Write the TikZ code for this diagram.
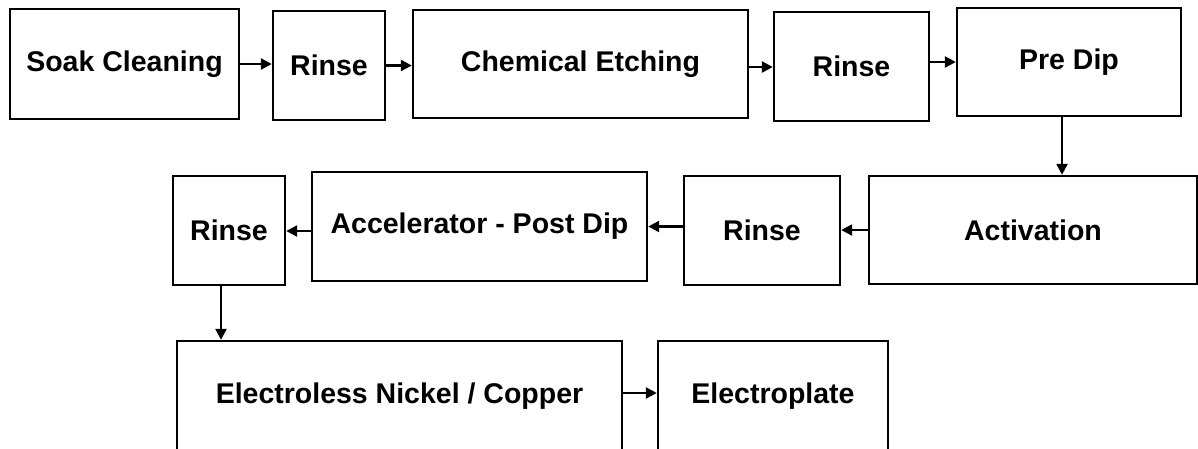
\documentclass[tikz,border=0pt]{standalone}
\usepackage{fontspec}
\setmainfont{Liberation Sans}
\usetikzlibrary{arrows.meta}

\tikzset{
    stage/.style={draw, line width=2.4pt, rectangle, inner sep=0pt, align=center,
        font=\fontsize{28.5}{34}\selectfont\bfseries},
    flow/.style={line width=2.4pt, -{Triangle[length=11pt,width=11pt]}}
}

\begin{document}
\begin{tikzpicture}[x=1pt, y=-1pt]
    \useasboundingbox (0,0) rectangle (1198,448);
    \clip (0,0) rectangle (1198,448);

    % First row (left to right)
    \node[stage, minimum width=229pt, minimum height=110pt] (soak)   at (124.5,64)  {Soak Cleaning};
    \node[stage, minimum width=112pt, minimum height=109pt] (rinseA) at (329,65.5)  {Rinse};
    \node[stage, minimum width=335pt, minimum height=108pt] (etch)   at (580.5,64)  {Chemical Etching};
    \node[stage, minimum width=155pt, minimum height=109pt] (rinseB) at (851.5,66.5) {Rinse};
    \node[stage, minimum width=224pt, minimum height=108pt] (predip) at (1069,62)   {Pre Dip};

    % Second row (right to left)
    \node[stage, minimum width=328pt, minimum height=108pt] (activ)  at (1033,230)  {Activation};
    \node[stage, minimum width=156pt, minimum height=109pt] (rinseC) at (762,230.5) {Rinse};
    \node[stage, minimum width=335pt, minimum height=109pt] (accel)  at (479.5,226.5) {Accelerator - Post Dip};
    \node[stage, minimum width=112pt, minimum height=109pt] (rinseD) at (229,230.5) {Rinse};

    % Third row
    \node[stage, minimum width=445pt, minimum height=111pt] (eless)  at (399.5,396.5) {Electroless Nickel / Copper};
    \node[stage, minimum width=230pt, minimum height=111pt] (eplate) at (773,396.5) {Electroplate};

    % Arrows
    \draw[flow] (soak.east) -- (soak.east -| rinseA.west);
    \draw[flow] (rinseA.east) -- (rinseA.east -| etch.west);
    \draw[flow] ([yshift=-3pt]etch.east) -- ([yshift=-3pt]etch.east -| rinseB.west);
    \draw[flow] (predip.west -| rinseB.east) -- (predip.west);
    \draw[flow] ([xshift=-7pt]predip.south) -- ([xshift=-7pt]predip.south |- activ.north);
    \draw[flow] (activ.west) -- (activ.west -| rinseC.east);
    \draw[flow] (accel.east -| rinseC.west) -- (accel.east);
    \draw[flow] ([yshift=-4.5pt]accel.west) -- ([yshift=-4.5pt]accel.west -| rinseD.east);
    \draw[flow] ([xshift=-8pt]rinseD.south) -- ([xshift=-8pt]rinseD.south |- eless.north);
    \draw[flow] ([yshift=3.5pt]eless.east) -- ([yshift=3.5pt]eless.east -| eplate.west);
\end{tikzpicture}
\end{document}
